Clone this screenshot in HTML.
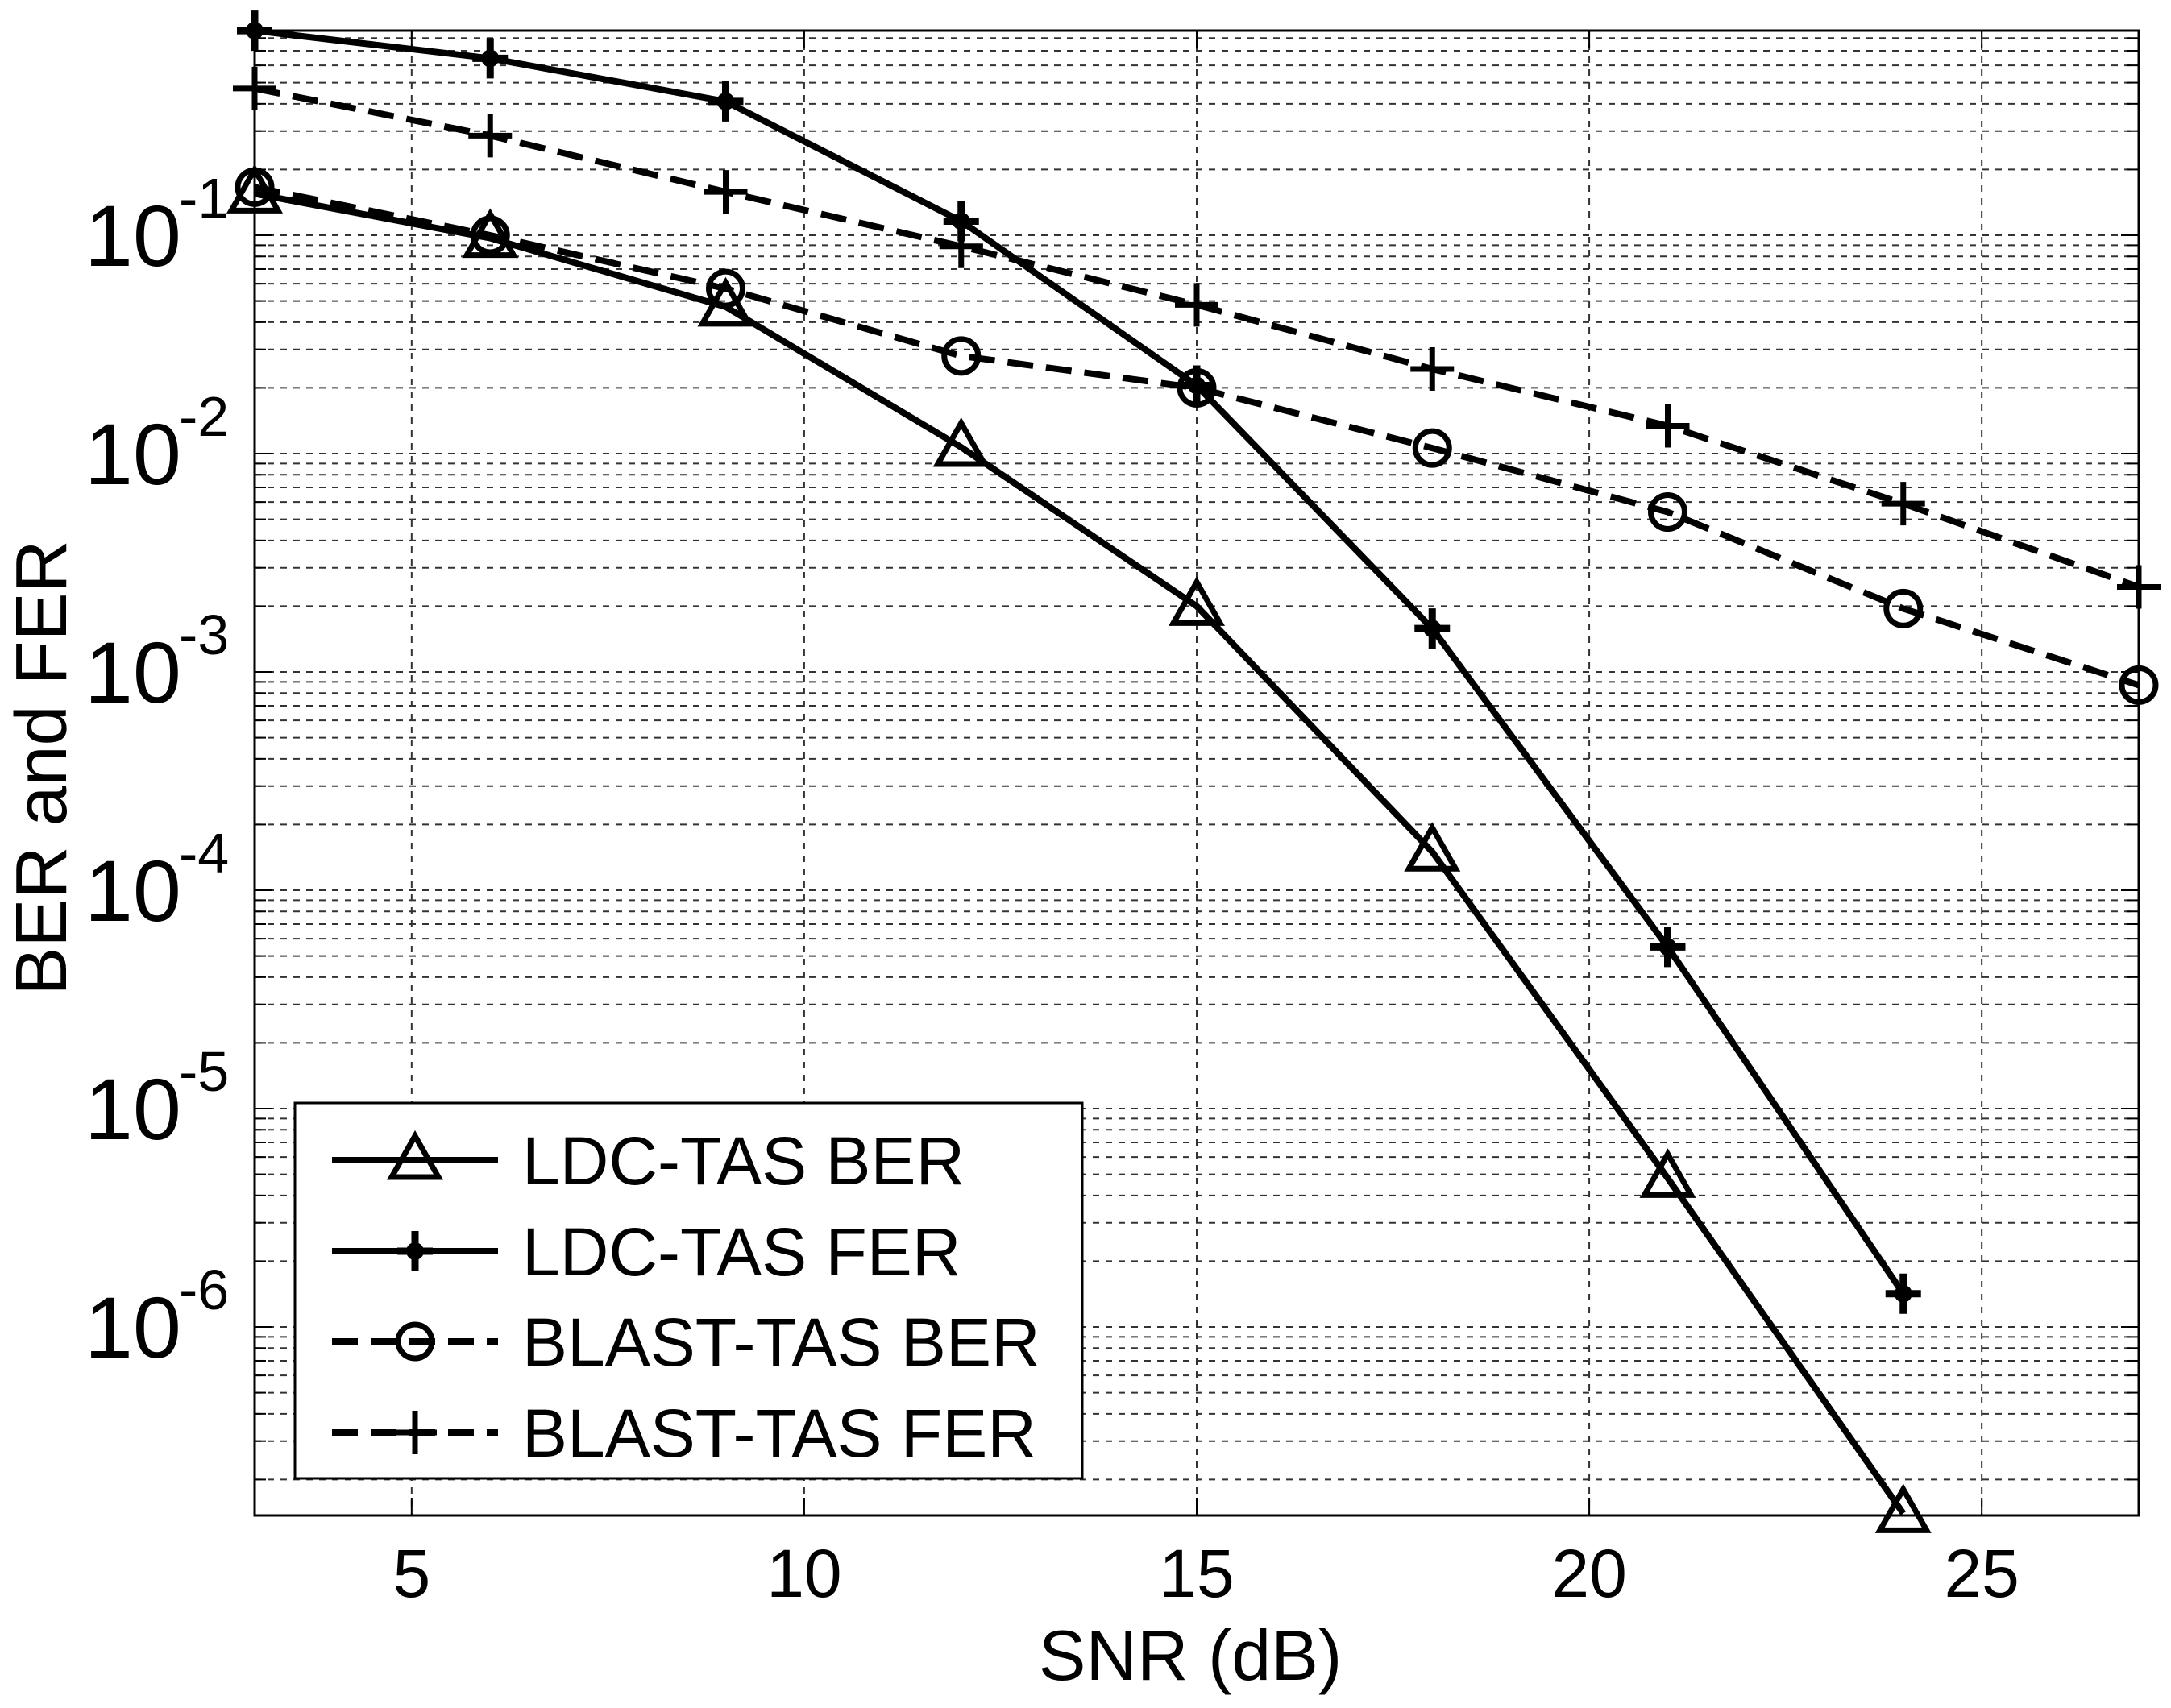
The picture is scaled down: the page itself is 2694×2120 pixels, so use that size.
<!DOCTYPE html>
<html><head><meta charset="utf-8"><style>
html,body{margin:0;padding:0;background:#fff;}
svg{display:block;font-family:"Liberation Sans",Arial,sans-serif;}
</style></head><body>
<svg id="chart" width="2694" height="2120" viewBox="0 0 2694 2120" xmlns="http://www.w3.org/2000/svg">
<rect width="2694" height="2120" fill="#fff"/>
<g id="grid"></g>
<g id="series"></g>
<g id="axes"></g>
<text x="1477" y="2085" font-size="88" text-anchor="middle" fill="#000">SNR  (dB)</text>
<text transform="translate(82,953) rotate(-90)" font-size="90" text-anchor="middle" fill="#000">BER and FER</text>
<g id="legend"></g>
</svg>
<script>
const snrA = [3,6,9,12,15,18,21,24];
const snrB = [3,6,9,12,15,18,21,24,27];
const ldcBer = [0.155,0.097,0.047,0.0107,0.0020,1.5e-4,4.8e-6,1.4e-7];
const ldcFer = [0.865,0.646,0.41,0.116,0.0205,1.58e-3,5.5e-5,1.42e-6];
const blastBer = [0.166,0.1,0.057,0.028,0.020,0.0106,5.4e-3,1.95e-3,8.7e-4];
const blastFer = [0.47,0.286,0.158,0.089,0.048,0.0244,0.0134,5.9e-3,2.45e-3];
const xTicks = [5,10,15,20,25];
const yExps = [-1,-2,-3,-4,-5,-6];
const legendLabels = ["LDC-TAS BER","LDC-TAS FER","BLAST-TAS BER","BLAST-TAS FER"];

const NS="http://www.w3.org/2000/svg";
const L=316,R=2654,T=38,B=1881;
const xMin=3,xMax=27;
const y1=292, dec=271;
function X(v){return L+(v-xMin)/(xMax-xMin)*(R-L);}
function Y(v){return y1+(-1-Math.log10(v))*dec;}
function el(tag,attrs,parent){const e=document.createElementNS(NS,tag);for(const k in attrs)e.setAttribute(k,attrs[k]);parent.appendChild(e);return e;}

const grid=document.getElementById('grid');
const axes=document.getElementById('axes');
for(let e=-7;e<=0;e++){
  for(let m=1;m<=9;m++){
    const v=m*Math.pow(10,e);const y=Y(v);
    if(y<T-0.5||y>B+0.5)continue;
    const g=el('line',{x1:L,x2:R,y1:y,y2:y,stroke:'#333','stroke-width':2,'stroke-dasharray':'8 8'},grid);
    
    
    const t1=el('line',{x1:L,x2:L+(m===1?22:14),y1:y,y2:y,stroke:'#000','stroke-width':2},axes);
    
    
    const t2=el('line',{x1:R,x2:R-(m===1?22:14),y1:y,y2:y,stroke:'#000','stroke-width':2},axes);
    
    
  }
}
xTicks.forEach(v=>{
  const x=X(v);
  const g=el('line',{x1:x,x2:x,y1:T,y2:B,stroke:'#333','stroke-width':2,'stroke-dasharray':'8 8'},grid);
  
  
  const t=el('line',{x1:x,x2:x,y1:B,y2:B-22,stroke:'#000','stroke-width':2},axes);
  
  
  const t2=el('line',{x1:x,x2:x,y1:T,y2:T+22,stroke:'#000','stroke-width':2},axes);
  
  
  const lb=el('text',{x:x,y:1982,'font-size':84,'text-anchor':'middle',fill:'#000'},axes);
  lb.textContent=v;
  
  
});
yExps.forEach(e=>{
  const y=Y(Math.pow(10,e));
  const lb=el('text',{x:225,y:y+38,'font-size':108,'text-anchor':'end',fill:'#000'},axes);
  lb.textContent='10';
  
  
  const ex=el('text',{x:222,y:y-22,'font-size':70,'text-anchor':'start',fill:'#000'},axes);
  ex.textContent='-'+(-e);
  
  
});
const box=el('rect',{x:L,y:T,width:R-L,height:B-T,fill:'none',stroke:'#000','stroke-width':3},axes);



function marker(kind,x,y,parent){
  let m;
  if(kind==='tri'){
    m=el('polygon',{points:`${x},${y-30} ${x-29},${y+21} ${x+29},${y+21}`,fill:'none',stroke:'#000','stroke-width':7,'stroke-linejoin':'miter'},parent);
  }else if(kind==='circ'){
    m=el('circle',{cx:x,cy:y,r:21,fill:'none',stroke:'#000','stroke-width':7},parent);
  }else if(kind==='bplus'){
    m=el('g',{},parent);
    el('line',{x1:x-22,x2:x+22,y1:y,y2:y,stroke:'#000','stroke-width':9},m);
    el('line',{x1:x,x2:x,y1:y-25,y2:y+25,stroke:'#000','stroke-width':9},m);
    el('circle',{cx:x,cy:y,r:11,fill:'#000'},m);
  }else{
    m=el('g',{},parent);
    el('line',{x1:x-27,x2:x+27,y1:y,y2:y,stroke:'#000','stroke-width':7},m);
    el('line',{x1:x,x2:x,y1:y-27,y2:y+27,stroke:'#000','stroke-width':7},m);
  }
  return m;
}
const series=document.getElementById('series');
const defs=[
  {name:'ldc-tas-ber',xs:snrA,ys:ldcBer,dash:null,mk:'tri'},
  {name:'ldc-tas-fer',xs:snrA,ys:ldcFer,dash:null,mk:'bplus'},
  {name:'blast-tas-ber',xs:snrB,ys:blastBer,dash:'32 16',mk:'circ'},
  {name:'blast-tas-fer',xs:snrB,ys:blastFer,dash:'32 16',mk:'plus'}
];
defs.forEach(d=>{
  const g=el('g',{},series);
  
  
  const pts=d.xs.map((x,i)=>X(x)+','+Y(d.ys[i])).join(' ');
  const a={points:pts,fill:'none',stroke:'#000','stroke-width':8,'stroke-linejoin':'round'};
  if(d.dash)a['stroke-dasharray']=d.dash;
  const pl=el('polyline',a,g);
  
  
  d.xs.forEach((x,i)=>{
    const m=marker(d.mk,X(x),Y(d.ys[i]),g);
    
    
  });
});
const lg=document.getElementById('legend');
const lr=el('rect',{x:366,y:1369,width:977,height:466,fill:'#fff',stroke:'#000','stroke-width':3},lg);


const ly=[1440,1553,1665,1778];
legendLabels.forEach((lab,i)=>{
  const g=el('g',{},lg);
  
  
  const a={x1:412,x2:618,y1:ly[i],y2:ly[i],stroke:'#000','stroke-width':8};
  if(defs[i].dash)a['stroke-dasharray']='32 16';
  el('line',a,g);
  marker(defs[i].mk,515,ly[i],g);
  const t=el('text',{x:648,y:ly[i]+30,'font-size':84,fill:'#000'},g);
  t.textContent=lab;
});
</script>
</body></html>
